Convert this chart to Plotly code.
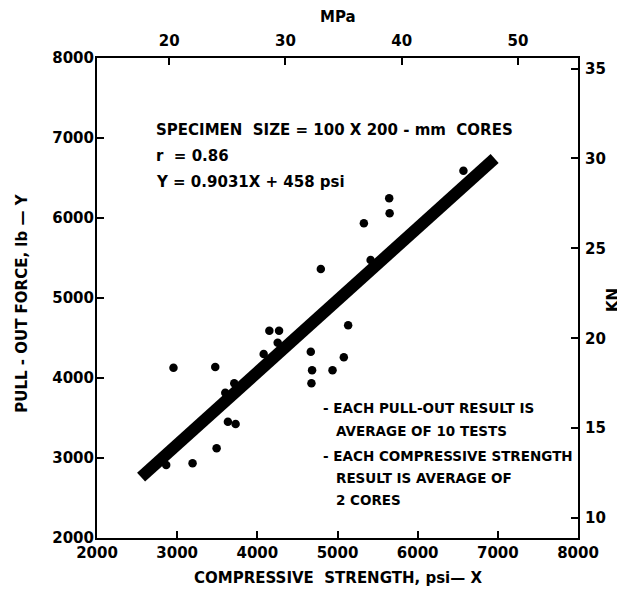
import plotly.graph_objects as go

# Data
comp_psi = [2954, 3475, 2863, 3192, 3492, 3633, 3729, 3600, 3712, 4079, 4150, 4271,
            4254, 4667, 4683, 4675, 4938, 5079, 5133, 4792, 5413, 5329, 5645, 5650, 6571]
pull_lb = [4129, 4138, 2913, 2934, 3121, 3454, 3425, 3816, 3933, 4300, 4592, 4592,
           4442, 4329, 4096, 3933, 4096, 4258, 4658, 5362, 5475, 5933, 6246, 6060, 6591]

slope = 0.9031
intercept = 458
fit_x = [2550, 6960]
fit_y = [slope * v + intercept for v in fit_x]

x_range = [2000, 8000]
y_range = [2000, 8000]
x_ticks = [2000, 3000, 4000, 5000, 6000, 7000, 8000]
y_ticks = [2000, 3000, 4000, 5000, 6000, 7000, 8000]
mpa_ticks = [20, 30, 40, 50]
kn_ticks = [10, 15, 20, 25, 30, 35]

PSI_PER_MPA = 145.038
KN_PER_LB = 0.00444822

FONT = "DejaVu Sans"

fig = go.Figure()
fig.add_trace(go.Scatter(x=fit_x, y=fit_y, mode="lines",
                         line=dict(color="black", width=12), hoverinfo="skip",
                         showlegend=False))
fig.add_trace(go.Scatter(x=comp_psi, y=pull_lb, mode="markers",
                         marker=dict(color="black", size=8.5), showlegend=False))
# invisible trace to attach the secondary axes
fig.add_trace(go.Scatter(x=[x_range[0] / PSI_PER_MPA], y=[y_range[0] * KN_PER_LB],
                         xaxis="x2", yaxis="y2", mode="markers",
                         marker=dict(opacity=0), hoverinfo="skip", showlegend=False))

tickfont = dict(family=FONT, size=15, color="black", weight="bold")
titlefont = dict(family=FONT, size=15, color="black", weight="bold")

common = dict(showgrid=False, zeroline=False, showline=True, linecolor="black",
              linewidth=2, ticks="inside", ticklen=7, tickwidth=2, tickcolor="black",
              tickfont=tickfont, automargin=False)

# page body has an 8 px margin, so the figure is offset by 8 px
fig.update_layout(
    width=625, height=599,
    margin=dict(l=89, r=55, t=50, b=69, autoexpand=False),
    paper_bgcolor="white", plot_bgcolor="white",
    xaxis=dict(range=x_range, tickvals=x_ticks, **common),
    yaxis=dict(range=y_range, tickvals=y_ticks, ticklabelstandoff=-2, **common),
    xaxis2=dict(range=[x_range[0] / PSI_PER_MPA, x_range[1] / PSI_PER_MPA],
                tickvals=mpa_ticks, overlaying="x", side="top", anchor="y",
                ticklabelstandoff=4, **common),
    yaxis2=dict(range=[y_range[0] * KN_PER_LB, y_range[1] * KN_PER_LB],
                tickvals=kn_ticks, overlaying="y", side="right", anchor="x",
                ticklabelstandoff=2, **common),
)

# axis titles
titles = [
    ("COMPRESSIVE  STRENGTH, psi— X", 0.5, -0.083, 0),
    ("PULL - OUT FORCE, lb — Y", -0.156, 0.49, -90),
    ("MPa", 0.5, 1.086, 0),
    ("KN", 1.073, 0.496, -90),
]
for t, x, y, ang in titles:
    fig.add_annotation(text=t, x=x, y=y, xref="paper", yref="paper",
                       xanchor="center", yanchor="middle", showarrow=False,
                       textangle=ang, font=titlefont)

ann_font = dict(family=FONT, size=15, color="black", weight="bold")
note_font = dict(family=FONT, size=13.5, color="black", weight="bold")

texts = [
    ("SPECIMEN  SIZE = 100 X 200 - mm  CORES", 0.119, 0.85, ann_font),
    ("r  = 0.86", 0.119, 0.796, ann_font),
    ("Y = 0.9031X + 458 psi", 0.119, 0.742, ann_font),
    ("- EACH PULL-OUT RESULT IS", 0.466, 0.271, note_font),
    ("AVERAGE OF 10 TESTS", 0.493, 0.223, note_font),
    ("- EACH COMPRESSIVE STRENGTH", 0.466, 0.171, note_font),
    ("RESULT IS AVERAGE OF", 0.493, 0.125, note_font),
    ("2 CORES", 0.493, 0.079, note_font),
]
for t, x, y, f in texts:
    fig.add_annotation(text=t, x=x, y=y, xref="paper", yref="paper",
                       xanchor="left", yanchor="middle", showarrow=False, font=f)

fig.write_html("out.html")
